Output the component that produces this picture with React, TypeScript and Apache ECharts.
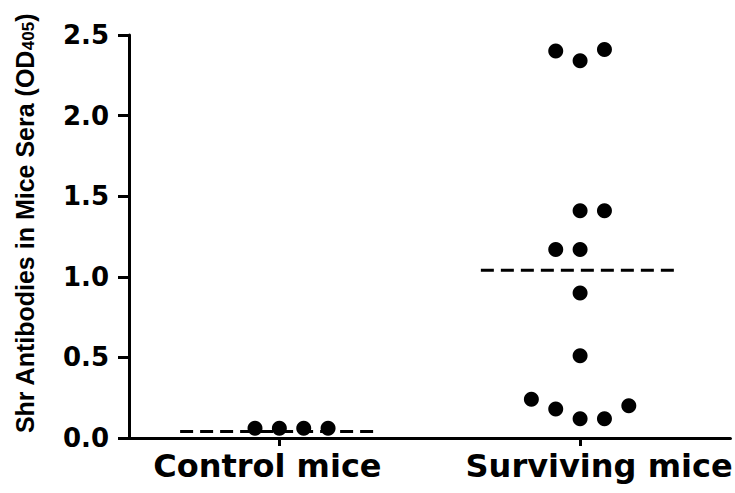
import React, { useEffect, useRef } from "react";
import * as echarts from "echarts";

const categories = ["Control mice", "Surviving mice"];
const controlValues = [0.06, 0.06, 0.06, 0.06];
const controlSlots = [-1, 0, 1, 2];
const survivingValues = [2.4, 2.34, 2.41, 1.41, 1.41, 1.17, 1.17, 0.9, 0.51, 0.24, 0.18, 0.12, 0.12, 0.2];
const survivingSlots = [-1, 0, 1, 0, 1, -1, 0, 0, 0, -2, -1, 0, 1, 2];
const groupMeans = [0.04, 1.04];
const yMin = 0;
const yMax = 2.5;
const yInterval = 0.5;

const SLOT = 0.081;
const HALF = 0.33;

export default function App() {
  const ref = useRef<HTMLDivElement>(null);
  useEffect(() => {
    document.body.style.margin = "0";
    const chart = echarts.init(ref.current!, undefined, { renderer: "svg" });
    const groups = [
      { values: controlValues, slots: controlSlots },
      { values: survivingValues, slots: survivingSlots },
    ];
    const series: any[] = [];
    groups.forEach((g, gi) => {
      series.push({
        type: "line",
        xAxisIndex: 1,
        data: [
          [gi + 0.5 - HALF, groupMeans[gi]],
          [gi + 0.5 + HALF, groupMeans[gi]],
        ],
        symbol: "none",
        lineStyle: { color: "#000", width: 3, type: [13, 7] },
        z: 2,
        silent: true,
      });
    });
    groups.forEach((g, gi) => {
      series.push({
        type: "scatter",
        xAxisIndex: 1,
        data: g.values.map((v, i) => [gi + 0.5 + g.slots[i] * SLOT, v]),
        symbol: "circle",
        symbolSize: 15,
        itemStyle: { color: "#000", opacity: 1 },
        clip: false,
        z: 3,
      });
    });
    const labelFont = {
      color: "#000",
      fontFamily: "DejaVu Sans",
      fontWeight: "bold",
      fontSize: 32,
    };
    chart.setOption({
      animation: false,
      backgroundColor: "#fff",
      grid: { left: 129, right: 2, top: 35, bottom: 55 },
      xAxis: [
        {
          type: "category",
          data: categories,
          boundaryGap: true,
          axisLine: { show: true, lineStyle: { color: "#000", width: 3 } },
          axisTick: { show: true, alignWithLabel: true, length: 8, lineStyle: { color: "#000", width: 3 } },
          axisLabel: {
            ...labelFont,
            margin: 12,
            interval: 0,
            hideOverlap: false,
            formatter: (v: string, i: number) => (i === 0 ? `{a|${v}}` : `{b|${v}}`),
            rich: {
              a: { ...labelFont, padding: [0, 24, 0, 0] },
              b: { ...labelFont, padding: [0, 0, 0, 38] },
            },
          },
          splitLine: { show: false },
        },
        {
          type: "value",
          min: 0,
          max: 2,
          show: false,
        },
      ],
      yAxis: {
        type: "value",
        min: yMin,
        max: yMax,
        interval: yInterval,
        name: "Shr Antibodies in Mice Sera (OD{sub|405})",
        nameLocation: "middle",
        nameRotate: 90,
        nameGap: 92,
        nameTextStyle: {
          color: "#000",
          fontFamily: "Liberation Sans",
          fontWeight: "bold",
          fontSize: 25,
          padding: [0, 0, 0, 26],
          rich: {
            sub: {
              fontFamily: "Liberation Sans",
              fontWeight: "bold",
              fontSize: 17,
              verticalAlign: "bottom",
              color: "#000",
            },
          },
        },
        axisLine: { show: true, lineStyle: { color: "#000", width: 3 } },
        axisTick: { show: true, length: 11, lineStyle: { color: "#000", width: 3 } },
        axisLabel: {
          color: "#000",
          fontFamily: "DejaVu Sans",
          fontWeight: "bold",
          fontSize: 26,
          margin: 20,
          formatter: (v: number) => v.toFixed(1),
        },
        splitLine: { show: false },
      },
      series,
    });
    return () => chart.dispose();
  }, []);
  return <div ref={ref} style={{ width: 735, height: 493 }} />;
}
